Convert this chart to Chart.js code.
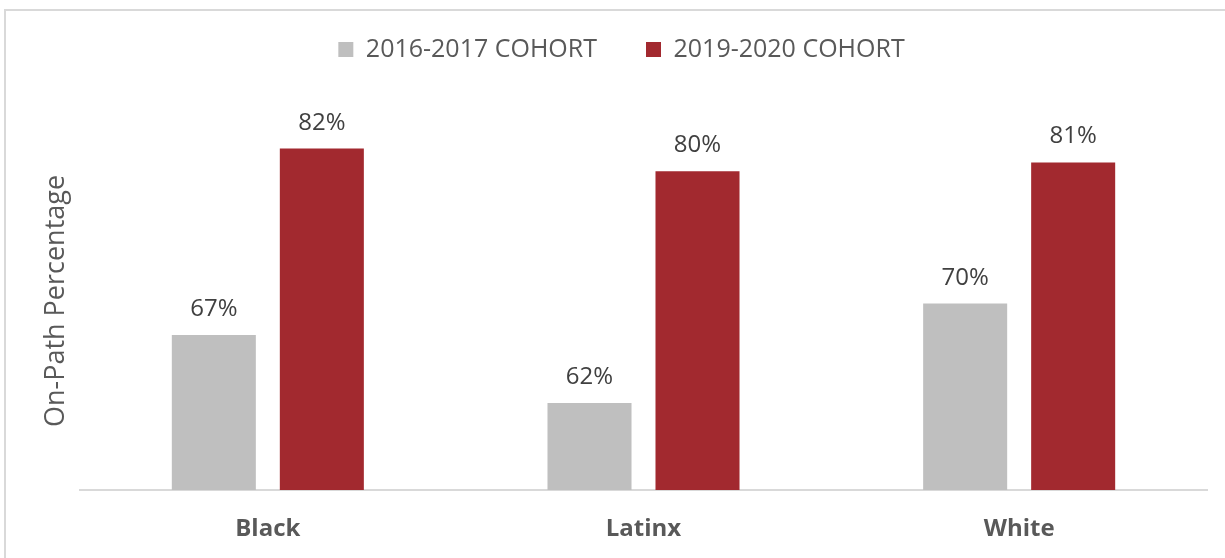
<!DOCTYPE html>
<html>
<head>
<meta charset="utf-8">
<script src="https://cdn.jsdelivr.net/npm/chart.js@4.4.0/dist/chart.umd.min.js"></script>
<style>
  body { margin: 0; background: #fff; overflow: hidden; }
  #wrap { position: relative; width: 1225px; height: 558px; }
  #frame { position: absolute; left: 4px; top: 9px; width: 1400px; height: 700px;
           border-left: 2px solid #d9d9d9; border-top: 2px solid #d9d9d9; }
  #myChart { position: absolute; left: 0; top: 0; }
</style>
</head>
<body>
<div id="wrap">
  <div id="frame"></div>
  <canvas id="myChart" width="1225" height="558"></canvas>
</div>
<script>
var groups = ["Black", "Latinx", "White"];
var cohort1617 = [67.3, 61.9, 69.8];
var cohort1920 = [82.1, 80.3, 81.0];
var seriesNames = ["2016-2017 COHORT", "2019-2020 COHORT"];

// value labels on top of the bars
var barLabels = {
  id: 'barLabels',
  afterDatasetsDraw: function(chart) {
    var ctx = chart.ctx;
    ctx.save();
    ctx.font = '24px "Open Sans"';
    ctx.fillStyle = '#404040';
    ctx.textAlign = 'center';
    ctx.textBaseline = 'alphabetic';
    chart.data.datasets.forEach(function(ds, i) {
      chart.getDatasetMeta(i).data.forEach(function(bar, j) {
        ctx.fillText(Math.round(ds.data[j]) + '%', bar.x, bar.y - 19);
      });
    });
    ctx.restore();
  }
};

// more room under the legend
var legendGap = {
  id: 'legendGap',
  beforeInit: function(chart) {
    var fit = chart.legend.fit;
    chart.legend.fit = function() {
      fit.bind(chart.legend)();
      this.height = 124;
    };
  }
};

var ctx = document.getElementById("myChart");

var myChart = new Chart(ctx, {
  type: 'bar',
  data: {
    labels: groups,
    datasets: [{
      label: seriesNames[0],
      data: cohort1617,
      backgroundColor: "#bfbfbf",
      categoryPercentage: 0.575,
      barPercentage: 0.778
    }, {
      label: seriesNames[1],
      data: cohort1920,
      backgroundColor: "#a2292f",
      categoryPercentage: 0.575,
      barPercentage: 0.778
    }]
  },
  options: {
    responsive: false,
    animation: false,
    layout: { padding: { top: -12, left: 36, right: 18, bottom: 0 } },
    plugins: {
      tooltip: { enabled: false },
      legend: {
        position: 'top',
        labels: {
          boxWidth: 15,
          boxHeight: 15,
          padding: 49,
          color: '#595959',
          font: { family: 'Open Sans', size: 25 }
        }
      }
    },
    scales: {
      x: {
        grid: { display: false, drawTicks: false },
        border: { display: true, color: '#d9d9d9', width: 2 },
        ticks: {
          padding: 25,
          color: '#595959',
          font: { family: 'Open Sans', size: 24, weight: 'bold' }
        },
        afterFit: function(scale) { scale.height = 68; }
      },
      y: {
        min: 55,
        max: 85,
        grid: { display: false },
        border: { display: false },
        ticks: { display: false },
        title: {
          display: true,
          text: 'On-Path Percentage',
          color: '#595959',
          padding: { top: 4, bottom: 0 },
          font: { family: 'Open Sans', size: 27 }
        },
        afterFit: function(scale) { scale.width = 44; }
      }
    }
  },
  plugins: [barLabels, legendGap]
});
</script>
</body>
</html>
